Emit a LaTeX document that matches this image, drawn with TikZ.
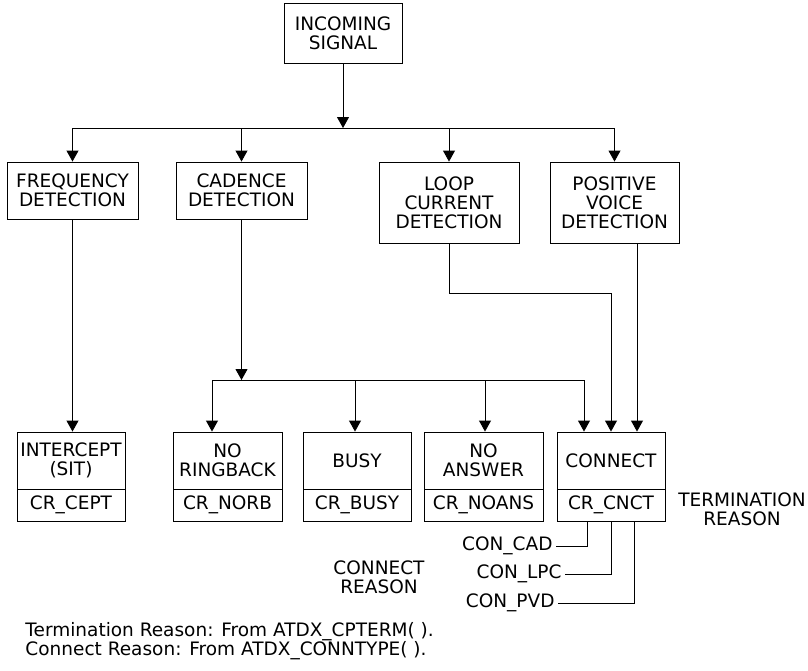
\documentclass[tikz,border=0pt]{standalone}
\usepackage{fontspec}
\setmainfont{DejaVu Sans}
\usetikzlibrary{arrows.meta}
\begin{document}
\begin{tikzpicture}[x=1pt,y=-1pt,line width=0.9pt,
  txt/.style={font=\fontsize{18.5}{19}\selectfont},
  box/.style={draw,txt,inner sep=0pt,align=center},
  lbl/.style={txt,inner sep=0pt,align=center},
  conlbl/.style={txt,inner xsep=3pt,inner ysep=0pt,anchor=east},
  arr/.style={-{Triangle[width=12pt,length=11pt]}}]
\useasboundingbox (0,0) rectangle (808,670);

% top box
\node[box,minimum width=118pt,minimum height=60pt] (inc) at (343,33) {INCOMING\\SIGNAL};

% detection boxes
\node[box,minimum width=131pt,minimum height=57pt] (freq) at (72.5,190.5) {FREQUENCY\\DETECTION};
\node[box,minimum width=131pt,minimum height=57pt] (cad) at (241.5,190.5) {CADENCE\\DETECTION};
\node[box,minimum width=140pt,minimum height=81pt] (loop) at (449,202.5) {LOOP\\CURRENT\\DETECTION};
\node[box,minimum width=129pt,minimum height=81pt] (pos) at (614.5,202.5) {POSITIVE\\VOICE\\DETECTION};

% result boxes
\node[box,minimum width=108pt,minimum height=57pt] (icpt) at (71,460.5) {INTERCEPT\\(SIT)};
\node[box,minimum width=108pt,minimum height=32pt] (icptr) at (71,505) {CR\_CEPT};
\node[box,minimum width=109pt,minimum height=57pt] (norb) at (227.5,460.5) {NO\\RINGBACK};
\node[box,minimum width=109pt,minimum height=32pt] (norbr) at (227.5,505) {CR\_NORB};
\node[box,minimum width=108pt,minimum height=57pt] (busy) at (357,460.5) {BUSY};
\node[box,minimum width=108pt,minimum height=32pt] (busyr) at (357,505) {CR\_BUSY};
\node[box,minimum width=119pt,minimum height=57pt] (noans) at (483.5,460.5) {NO\\ANSWER};
\node[box,minimum width=119pt,minimum height=32pt] (noansr) at (483.5,505) {CR\_NOANS};
\node[box,minimum width=108pt,minimum height=57pt] (cnct) at (611,460.5) {CONNECT};
\node[box,minimum width=108pt,minimum height=32pt] (cnctr) at (611,505) {CR\_CNCT};

% labels
\node[lbl] (term) at (742,509) {TERMINATION\\REASON};
\node[lbl] (conr) at (379,577) {CONNECT\\REASON};
\node[conlbl] (ccad) at (556,546) {CON\_CAD};
\node[conlbl] (clpc) at (565,574) {CON\_LPC};
\node[conlbl] (cpvd) at (558,603) {CON\_PVD};
\node[txt,inner sep=0pt,anchor=west] (f1) at (25,632) {Termination Reason: From ATDX\_CPTERM( ).};
\node[txt,inner sep=0pt,anchor=west] (f2) at (25,651) {Connect Reason: From ATDX\_CONNTYPE( ).};

% top distribution
\coordinate (tbus) at (343,128);
\coordinate (tl) at (72.5,128);
\coordinate (tr) at (614.5,128);
\draw[arr] (inc.south) -- (tbus);
\draw (tl) -- (tr);
\draw[arr] (tl) -- (freq.north);
\draw[arr] (tbus -| cad.north) -- (cad.north);
\draw[arr] (tbus -| loop.north) -- (loop.north);
\draw[arr] (tr) -- (pos.north);

% frequency -> intercept
\draw[arr] (freq.south) -- (freq.south |- icpt.north);

% cadence distribution
\coordinate (cbus) at (241.5,380);
\coordinate (cb1) at (212,380);
\coordinate (cb2) at (355,380);
\coordinate (cb3) at (485,380);
\coordinate (cb4) at (584,380);
\draw[arr] (cad.south) -- (cbus);
\draw (cb1) -- (cb4);
\draw[arr] (cb1) -- (cb1 |- norb.north);
\draw[arr] (cb2) -- (cb2 |- busy.north);
\draw[arr] (cb3) -- (cb3 |- noans.north);
\draw[arr] (cb4) -- (cb4 |- cnct.north);

% loop current -> connect
\coordinate (lp) at (611,293);
\draw[arr] (loop.south) |- (lp) -- (lp |- cnct.north);

% positive voice -> connect
\coordinate (pv) at (637,243);
\draw[arr] (pv) -- (pv |- cnct.north);

% connect reasons
\coordinate (r1) at (587,521);
\coordinate (r2) at (611,521);
\coordinate (r3) at (634,521);
\draw (r1) |- (ccad);
\draw (r2) |- (clpc);
\draw (r3) |- (cpvd);
\end{tikzpicture}
\end{document}
